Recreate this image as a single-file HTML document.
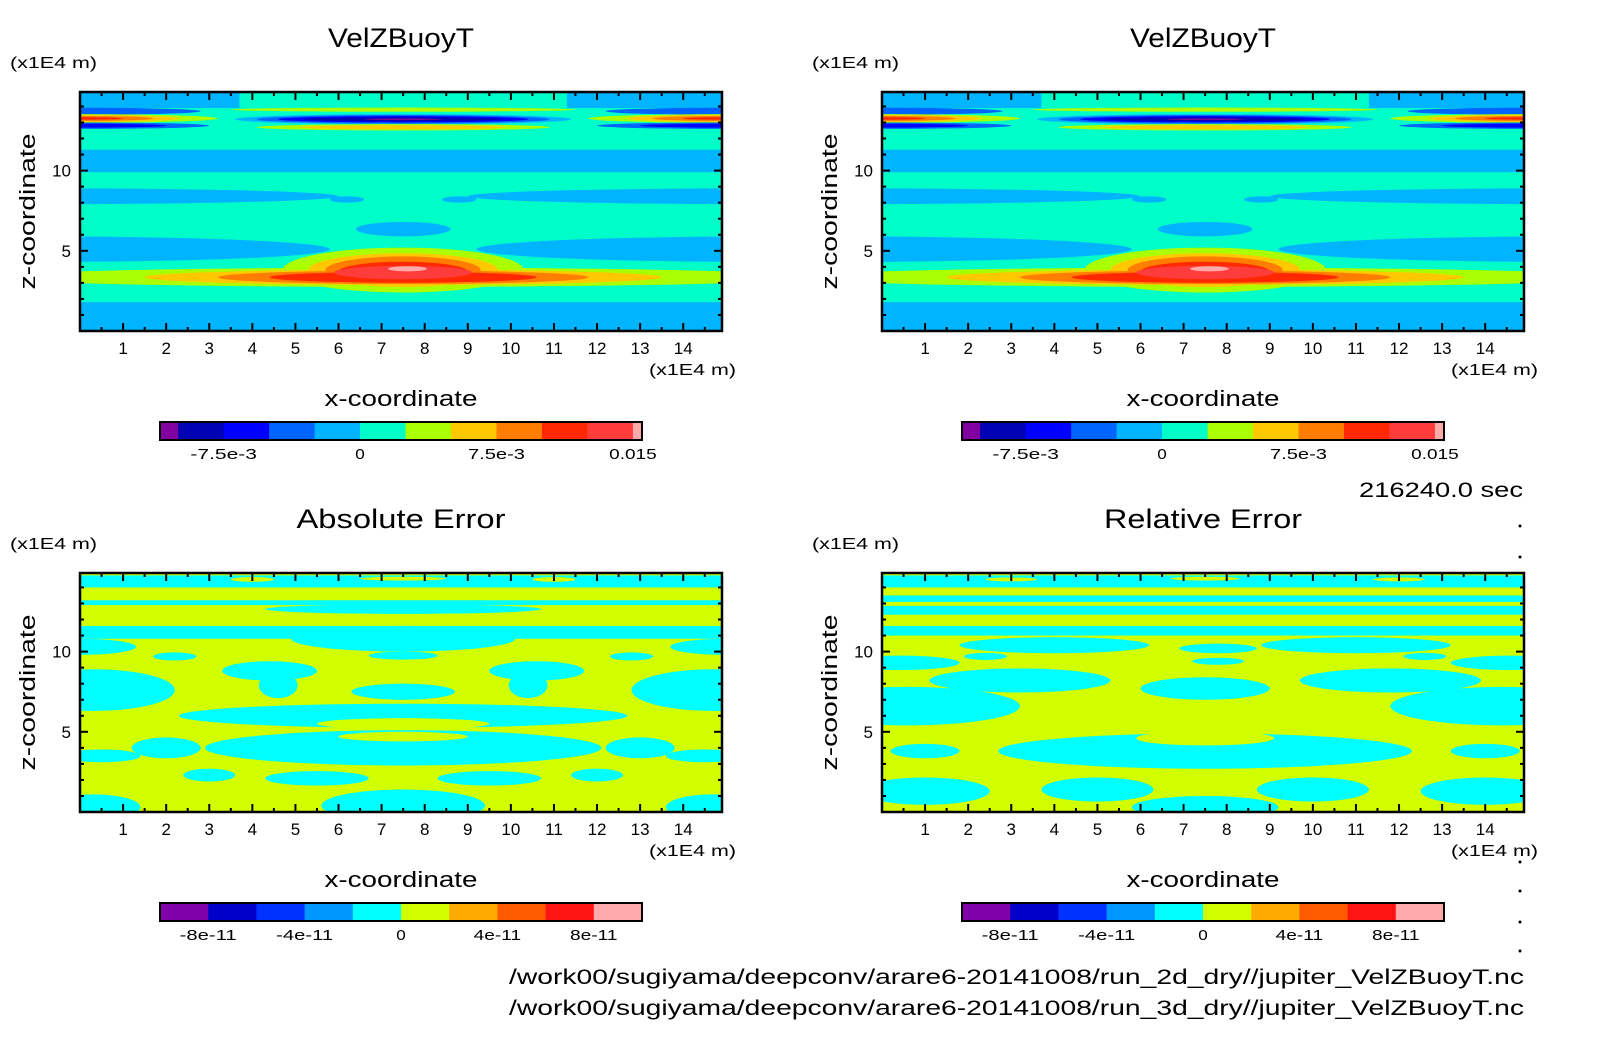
<!DOCTYPE html>
<html><head><meta charset="utf-8">
<style>
html,body{margin:0;padding:0;background:#fff;}
svg{display:block;font-family:"Liberation Sans",sans-serif;}
</style></head>
<body>
<svg id="fig" width="1604" height="1054" viewBox="0 0 1604 1054" xmlns="http://www.w3.org/2000/svg">
<rect x="0" y="0" width="1604" height="1054" fill="#fff"/>
<text x="1523" y="497" font-size="21" text-anchor="end" textLength="164" lengthAdjust="spacingAndGlyphs">216240.0 sec</text>
<text x="1524" y="984" font-size="21" text-anchor="end" textLength="1015" lengthAdjust="spacingAndGlyphs">/work00/sugiyama/deepconv/arare6-20141008/run_2d_dry//jupiter_VelZBuoyT.nc</text>
<text x="1524" y="1015" font-size="21" text-anchor="end" textLength="1015" lengthAdjust="spacingAndGlyphs">/work00/sugiyama/deepconv/arare6-20141008/run_3d_dry//jupiter_VelZBuoyT.nc</text>
<g fill="#000">
<circle cx="1520" cy="526" r="1.5"/><circle cx="1520" cy="557" r="1.5"/><circle cx="1520" cy="862" r="1.5"/><circle cx="1520" cy="891" r="1.5"/><circle cx="1520" cy="922" r="1.5"/><circle cx="1520" cy="951" r="1.5"/>
</g>
</svg>
<script>
// ---------- data ----------
const xTicks = [1,2,3,4,5,6,7,8,9,10,11,12,13,14];
const zTicks = [5,10];
const xDomain = [0, 14.9];
const zDomain = [0, 14.9];
const topLevels = [-0.01,-0.0075,-0.005,-0.0025,0,0.0025,0.005,0.0075,0.01,0.0125,0.015];
const topColors = ["#8000a0","#0000b4","#0000ff","#0064ff","#00b4ff","#00ffc8","#aaff00","#ffc800","#ff7d00","#ff2800","#ff3c3c","#ffaaaa"];
const topCbLabels = [["-7.5e-3",-0.0075],["0",0],["7.5e-3",0.0075],["0.015",0.015]];
const errLevels = [-8e-11,-6e-11,-4e-11,-2e-11,0,2e-11,4e-11,6e-11,8e-11];
const errColors = ["#8000aa","#0000c8","#0032ff","#0096ff","#00ffff","#d2ff00","#ffaa00","#ff5a00","#ff1414","#ffaaaa"];
const errCbLabels = [["-8e-11",-8e-11],["-4e-11",-4e-11],["0",0],["4e-11",4e-11],["8e-11",8e-11]];
const errRange = [-1e-10, 1e-10];
const topRange = [-0.011, 0.0155];

// field features: [shape, x/cx, z/cz, x2/rx, z2/rz, value]
const velBackground = 0.00125;
const velFeatures = [
 ["r",0,0,15,1.8,-0.00125],
 ["r",0,9.9,15,11.3,-0.00125],
 ["e",-1,8.4,7,0.5,-0.00125],["e",16,8.4,7,0.5,-0.00125],
 ["e",6.2,8.2,0.4,0.2,-0.00125],["e",8.8,8.2,0.4,0.2,-0.00125],
 ["e",7.5,6.35,1.1,0.45,-0.00125],
 ["e",-1,5.1,6.8,0.8,-0.00125],["e",16,5.1,6.8,0.8,-0.00125],
 ["r",0,13.9,3.7,15,-0.00125],["r",11.3,13.9,15,15,-0.00125],
 ["e",0,13.7,2.8,0.22,-0.00375],["e",15,13.7,2.8,0.22,-0.00375],
 ["e",0,13.25,3.2,0.27,0.00375],["e",15,13.25,3.2,0.27,0.00375],
 ["e",0,13.25,2.3,0.22,0.00625],["e",15,13.25,2.3,0.22,0.00625],
 ["e",0,13.25,1.7,0.16,0.00875],["e",15,13.25,1.7,0.16,0.00875],
 ["e",0,13.25,1.0,0.08,0.01125],["e",15,13.25,1.0,0.08,0.01125],
 ["e",0,12.8,3.0,0.2,-0.00375],["e",15,12.8,3.0,0.2,-0.00375],
 ["e",0,12.8,2.0,0.12,-0.00625],["e",15,12.8,2.0,0.12,-0.00625],
 ["e",7.5,13.8,4.0,0.13,0.00375],
 ["e",7.5,13.2,3.9,0.32,-0.00125],
 ["e",7.5,13.2,3.4,0.26,-0.00375],
 ["e",7.5,13.2,2.9,0.2,-0.00625],
 ["e",7.5,13.2,2.3,0.12,-0.00875],
 ["e",7.5,13.2,0.9,0.05,-0.011],
 ["e",7.5,12.7,3.4,0.2,0.00375],
 ["e",7.5,12.7,2.4,0.13,0.00625],
 ["e",7.5,3.35,9.5,0.6,0.00375],
 ["e",7.5,3.8,2.8,1.4,0.00375],
 ["e",7.5,3.35,6.0,0.48,0.00625],
 ["e",7.5,3.8,2.2,1.05,0.00625],
 ["e",7.5,3.35,4.3,0.42,0.00875],
 ["e",7.5,3.8,1.8,0.85,0.00875],
 ["e",7.5,3.35,3.1,0.34,0.01125],
 ["e",7.5,3.7,1.5,0.62,0.01125],
 ["e",7.5,3.65,1.6,0.42,0.01375],
 ["e",7.6,3.88,0.45,0.16,0.016]
];
const absBackground = 1e-11;
const absFeatures = [
 ["r",0,14.0,15,14.75,-1e-11],
 ["e",4,14.5,0.5,0.15,1e-11],["e",11,14.5,0.5,0.15,1e-11],["e",7.5,14.55,1.0,0.12,1e-11],
 ["r",0,12.9,15,13.2,-1e-11],
 ["e",7.5,12.65,3.2,0.3,-1e-11],
 ["r",0,10.8,15,11.6,-1e-11],
 ["e",7.5,10.8,2.6,0.8,-1e-11],
 ["e",0,10.3,1.3,0.5,-1e-11],["e",15,10.3,1.3,0.5,-1e-11],
 ["e",2.2,9.7,0.5,0.25,-1e-11],["e",12.8,9.7,0.5,0.25,-1e-11],
 ["e",7.5,9.75,0.8,0.25,-1e-11],
 ["e",4.4,8.8,1.1,0.6,-1e-11],["e",10.6,8.8,1.1,0.6,-1e-11],
 ["e",4.6,7.9,0.45,0.8,-1e-11],["e",10.4,7.9,0.45,0.8,-1e-11],
 ["e",0.3,7.6,1.9,1.3,-1e-11],["e",14.7,7.6,1.9,1.3,-1e-11],
 ["e",7.5,7.5,1.2,0.5,-1e-11],
 ["e",7.5,6.0,5.2,0.75,-1e-11],
 ["e",7.5,5.5,2.0,0.35,1e-11],
 ["e",7.5,4.0,4.6,1.1,-1e-11],
 ["e",7.5,4.7,1.5,0.3,1e-11],
 ["e",2.0,4.0,0.8,0.65,-1e-11],["e",13.0,4.0,0.8,0.65,-1e-11],
 ["e",0.5,3.5,0.9,0.4,-1e-11],["e",14.5,3.5,0.9,0.4,-1e-11],
 ["e",5.5,2.1,1.2,0.45,-1e-11],["e",9.5,2.1,1.2,0.45,-1e-11],
 ["e",3.0,2.3,0.6,0.4,-1e-11],["e",12.0,2.3,0.6,0.4,-1e-11],
 ["e",7.5,0.4,1.9,1.0,-1e-11],
 ["e",0.3,0.3,1.1,0.8,-1e-11],["e",14.7,0.3,1.1,0.8,-1e-11]
];
const relBackground = 1e-11;
const relFeatures = [
 ["r",0,14.0,15,14.75,-1e-11],
 ["e",3,14.5,0.6,0.12,1e-11],["e",12,14.5,0.6,0.12,1e-11],["e",7.5,14.55,0.8,0.12,1e-11],
 ["r",0,13.1,15,13.5,-1e-11],
 ["r",0,12.3,15,12.85,-1e-11],
 ["r",0,11.0,15,11.6,-1e-11],
 ["e",4,10.4,2.2,0.5,-1e-11],["e",11,10.4,2.2,0.5,-1e-11],
 ["e",7.8,10.2,0.9,0.3,-1e-11],
 ["e",0.4,9.3,1.4,0.45,-1e-11],["e",14.6,9.3,1.4,0.45,-1e-11],
 ["e",2.4,9.7,0.5,0.22,-1e-11],["e",12.6,9.7,0.5,0.22,-1e-11],
 ["e",7.8,9.4,0.6,0.22,-1e-11],
 ["e",3.2,8.2,2.1,0.75,-1e-11],["e",11.8,8.2,2.1,0.75,-1e-11],
 ["e",7.5,7.7,1.5,0.7,-1e-11],
 ["e",0.6,6.6,2.6,1.2,-1e-11],["e",14.4,6.6,2.6,1.2,-1e-11],
 ["e",7.5,3.8,4.8,1.1,-1e-11],
 ["e",7.5,4.6,1.6,0.45,1e-11],
 ["e",1.0,3.8,0.8,0.45,-1e-11],["e",14.0,3.8,0.8,0.45,-1e-11],
 ["e",1.0,1.3,1.5,0.85,-1e-11],["e",14.0,1.3,1.5,0.85,-1e-11],
 ["e",5.0,1.4,1.3,0.75,-1e-11],["e",10.0,1.4,1.3,0.75,-1e-11],
 ["e",7.5,0.3,1.7,0.7,-1e-11]
];

// ---------- drawing ----------
const NS = "http://www.w3.org/2000/svg";
const svg = document.getElementById("fig");
const PW = 642, PH = 239;
function mk(tag, attrs, parent){ const e=document.createElementNS(NS,tag); for(const k in attrs) e.setAttribute(k,attrs[k]); parent.appendChild(e); return e; }
function colorFor(v, levels, colors){ let i=0; while(i<levels.length && v>=levels[i]) i++; return colors[i]; }

function panel(id, px, py, title, titleLen, bg, feats, levels, colors, cbLabels, cbRange){
  const g = mk("g",{},svg);
  
  
  const sx = v => px + (v - xDomain[0]) / (xDomain[1]-xDomain[0]) * PW;
  const sz = v => py + PH - (v - zDomain[0]) / (zDomain[1]-zDomain[0]) * PH;
  const clip = mk("clipPath",{id:"clip-"+id},g);
  mk("rect",{x:px,y:py,width:PW,height:PH},clip);
  const field = mk("g",{"clip-path":"url(#clip-"+id+")"},g);
  
  
  const bgr = mk("rect",{x:px,y:py,width:PW,height:PH,fill:colorFor(bg,levels,colors)},field);
  
  
  feats.forEach(f=>{
    let el;
    const c = colorFor(f[5],levels,colors);
    if(f[0]==="r"){
      el = mk("rect",{x:sx(f[1]),y:sz(f[4]),width:sx(f[3])-sx(f[1]),height:sz(f[2])-sz(f[4]),fill:c},field);
    } else {
      el = mk("ellipse",{cx:sx(f[1]),cy:sz(f[2]),rx:sx(f[3])-sx(0),ry:sz(0)-sz(f[4]),fill:c},field);
    }
    
    
  });
  mk("rect",{x:px,y:py,width:PW,height:PH,fill:"none",stroke:"#000","stroke-width":2.5},g);
  for(let v=0.5; v<xDomain[1]; v+=0.5){
    const major = Number.isInteger(v);
    const L = major?8:4, X=sx(v);
    mk("line",{x1:X,y1:py+PH,x2:X,y2:py+PH-L,stroke:"#000","stroke-width":2},g);
    mk("line",{x1:X,y1:py,x2:X,y2:py+L,stroke:"#000","stroke-width":2},g);
  }
  for(let v=1; v<zDomain[1]; v+=1){
    const major = zTicks.includes(v);
    const L = major?8:4, Y=sz(v);
    mk("line",{x1:px,y1:Y,x2:px+L,y2:Y,stroke:"#000","stroke-width":2},g);
    mk("line",{x1:px+PW,y1:Y,x2:px+PW-L,y2:Y,stroke:"#000","stroke-width":2},g);
  }
  xTicks.forEach(v=>{
    const t = mk("text",{x:sx(v),y:py+PH+23,"font-size":17,"text-anchor":"middle"},g);
    t.textContent = v;
    
    
  });
  zTicks.forEach(v=>{
    const t = mk("text",{x:px-9,y:sz(v)+6,"font-size":17,"text-anchor":"end"},g);
    t.textContent = v;
    
    
  });
  const cx = px + PW/2;
  const tt = mk("text",{x:cx,y:py-45,"font-size":27,"text-anchor":"middle",textLength:titleLen,lengthAdjust:"spacingAndGlyphs"},g);
  tt.textContent = title;
  
  
  const u1 = mk("text",{x:px-70,y:py-24,"font-size":16,textLength:87,lengthAdjust:"spacingAndGlyphs"},g);
  u1.textContent = "(x1E4 m)";
  
  
  const u2 = mk("text",{x:px+PW+14-87,y:py+PH+44,"font-size":16,textLength:87,lengthAdjust:"spacingAndGlyphs"},g);
  u2.textContent = "(x1E4 m)";
  
  
  const xt = mk("text",{x:cx,y:py+PH+75,"font-size":22,"text-anchor":"middle",textLength:153,lengthAdjust:"spacingAndGlyphs"},g);
  xt.textContent = "x-coordinate";
  
  
  const zy = py+PH/2;
  const zt = mk("text",{x:px-45,y:zy,"font-size":22,"text-anchor":"middle",textLength:156,lengthAdjust:"spacingAndGlyphs",transform:"rotate(-90 "+(px-45)+" "+zy+")"},g);
  zt.textContent = "z-coordinate";
  
  
  const cbx0 = px+80, cbx1 = px+562, cby = py+PH+91, cbh = 18;
  const cs = v => cbx0 + (v-cbRange[0])/(cbRange[1]-cbRange[0])*(cbx1-cbx0);
  const cb = mk("g",{},g);
  
  
  const edges = [cbRange[0]].concat(levels).concat([cbRange[1]]);
  for(let i=0;i<colors.length;i++){
    const r = mk("rect",{x:cs(edges[i]),y:cby,width:cs(edges[i+1])-cs(edges[i])+0.5,height:cbh,fill:colors[i]},cb);
    
    
  }
  mk("rect",{x:cbx0,y:cby,width:cbx1-cbx0,height:cbh,fill:"none",stroke:"#000","stroke-width":2},cb);
  cbLabels.forEach(l=>{
    const w = l[0].length*9.5;
    const t = mk("text",{x:cs(l[1]),y:cby+cbh+19,"font-size":15,"text-anchor":"middle",textLength:w,lengthAdjust:"spacingAndGlyphs"},cb);
    t.textContent = l[0];
    
    
  });
}
panel("velzbuoyt-2d-panel",80,92,"VelZBuoyT",146,velBackground,velFeatures,topLevels,topColors,topCbLabels,topRange);
panel("velzbuoyt-3d-panel",882,92,"VelZBuoyT",146,velBackground,velFeatures,topLevels,topColors,topCbLabels,topRange);
panel("absolute-error-panel",80,573,"Absolute Error",209,absBackground,absFeatures,errLevels,errColors,errCbLabels,errRange);
panel("relative-error-panel",882,573,"Relative Error",198,relBackground,relFeatures,errLevels,errColors,errCbLabels,errRange);
</script>
</body></html>
